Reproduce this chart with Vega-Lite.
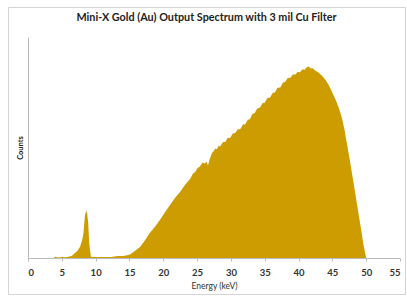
{
  "$schema": "https://vega.github.io/schema/vega-lite/v6.json",
  "width": 397,
  "height": 287,
  "autosize": "none",
  "padding": {"left": 8, "top": 7, "right": 2, "bottom": 3},
  "title": {"text": "Mini-X Gold (Au) Output Spectrum with 3 mil Cu Filter", "font": "Lato", "fontSize": 10.8, "fontWeight": "bold", "color": "#222222", "anchor": "middle", "offset": -16},
  "config": {"view": {"stroke": "#d4d4d4", "strokeWidth": 1}, "background": "white"},
  "data": {"values": [
    {"E": 3.8, "c": 0}, {"E": 4.0, "c": 0.6}, {"E": 4.3, "c": 0.3}, {"E": 4.6, "c": 0.2}, {"E": 5.0, "c": 0.5},
    {"E": 5.5, "c": 0.3}, {"E": 6.0, "c": 0.6}, {"E": 6.5, "c": 1.0}, {"E": 6.9, "c": 2.1}, {"E": 7.3, "c": 3.2},
    {"E": 7.7, "c": 5.1}, {"E": 8.0, "c": 8}, {"E": 8.2, "c": 11.3}, {"E": 8.4, "c": 18.7}, {"E": 8.6, "c": 21.5},
    {"E": 8.75, "c": 20}, {"E": 8.9, "c": 15.8}, {"E": 9.05, "c": 6.8}, {"E": 9.3, "c": 0.6}, {"E": 9.7, "c": 0.5},
    {"E": 10.5, "c": 0.4}, {"E": 11.5, "c": 0.4}, {"E": 12.3, "c": 0.5}, {"E": 13.0, "c": 0.8}, {"E": 13.3, "c": 0.9},
    {"E": 14.0, "c": 0.9}, {"E": 14.5, "c": 1.1}, {"E": 15.1, "c": 1.6}, {"E": 15.8, "c": 3.2}, {"E": 16.6, "c": 5.1},
    {"E": 17.3, "c": 8}, {"E": 18.0, "c": 11.3}, {"E": 18.8, "c": 14.3}, {"E": 19.5, "c": 17.2}, {"E": 20.2, "c": 20.5},
    {"E": 21.0, "c": 24}, {"E": 21.7, "c": 27}, {"E": 22.5, "c": 30}, {"E": 23.2, "c": 33}, {"E": 24.0, "c": 36},
    {"E": 24.4, "c": 38.2}, {"E": 24.7, "c": 38.8}, {"E": 25.1, "c": 40.8}, {"E": 25.4, "c": 41.3}, {"E": 25.8, "c": 43.2},
    {"E": 26.1, "c": 42.8}, {"E": 26.4, "c": 43.6}, {"E": 26.6, "c": 41.8}, {"E": 26.9, "c": 45}, {"E": 27.2, "c": 47.5},
    {"E": 27.4, "c": 48.2}, {"E": 27.7, "c": 49.6}, {"E": 27.9, "c": 49.2}, {"E": 28.2, "c": 50.8}, {"E": 28.4, "c": 50.4},
    {"E": 28.8, "c": 52.4}, {"E": 29.2, "c": 52.6}, {"E": 29.5, "c": 54.3}, {"E": 29.9, "c": 54.4}, {"E": 30.3, "c": 56.5},
    {"E": 30.6, "c": 56.4}, {"E": 31.0, "c": 58.2}, {"E": 31.4, "c": 58.4}, {"E": 31.8, "c": 60.5}, {"E": 32.1, "c": 60.4},
    {"E": 32.5, "c": 62.6}, {"E": 32.8, "c": 62.8}, {"E": 33.2, "c": 65.3}, {"E": 33.5, "c": 65.5}, {"E": 33.9, "c": 67.6},
    {"E": 34.3, "c": 68.1}, {"E": 34.7, "c": 70.1}, {"E": 35.0, "c": 70.3}, {"E": 35.4, "c": 72.4}, {"E": 35.8, "c": 72.6},
    {"E": 36.2, "c": 74.8}, {"E": 36.5, "c": 74.9}, {"E": 36.9, "c": 77}, {"E": 37.3, "c": 77.1}, {"E": 37.7, "c": 79.4},
    {"E": 38.0, "c": 79.6}, {"E": 38.4, "c": 81.5}, {"E": 38.8, "c": 81.6}, {"E": 39.2, "c": 83.1}, {"E": 39.5, "c": 82.9},
    {"E": 39.9, "c": 84.3}, {"E": 40.2, "c": 84.1}, {"E": 40.6, "c": 85.4}, {"E": 40.9, "c": 85.2}, {"E": 41.2, "c": 86.3},
    {"E": 41.5, "c": 86.6}, {"E": 41.8, "c": 85.8}, {"E": 42.1, "c": 85.9}, {"E": 42.5, "c": 84.7}, {"E": 42.9, "c": 84.0},
    {"E": 43.5, "c": 82.3}, {"E": 44.0, "c": 80.5}, {"E": 44.5, "c": 78}, {"E": 45.0, "c": 74.8}, {"E": 45.5, "c": 71.5},
    {"E": 46.0, "c": 67.5}, {"E": 46.4, "c": 63.5}, {"E": 46.8, "c": 58}, {"E": 47.1, "c": 52.6}, {"E": 47.6, "c": 44},
    {"E": 48.1, "c": 34.5}, {"E": 48.5, "c": 27}, {"E": 48.9, "c": 19.5}, {"E": 49.3, "c": 12}, {"E": 49.6, "c": 5.9},
    {"E": 50.0, "c": 0}
  ]},
  "mark": {"type": "area", "color": "#cc9c00", "interpolate": "linear"},
  "encoding": {
    "x": {
      "field": "E", "type": "quantitative",
      "scale": {"domain": [0, 55], "range": [20, 392], "nice": false, "zero": false},
      "axis": {
        "values": [0, 5, 10, 15, 20, 25, 30, 35, 40, 45, 50, 55],
        "offset": -36, "grid": false,
        "domainColor": "#bbbbbb", "tickColor": "#bbbbbb", "tickSize": 3,
        "labelFont": "Lato", "labelFontSize": 9.5, "labelFontWeight": "bold", "labelColor": "#333333", "labelPadding": 6,
        "title": "Energy (keV)", "titleFont": "Lato", "titleFontSize": 8.5, "titleFontWeight": "normal", "titleColor": "#333333", "titlePadding": 5
      }
    },
    "y": {
      "field": "c", "type": "quantitative",
      "scale": {"domain": [0, 100], "range": [251, 30], "nice": false},
      "axis": {
        "offset": -20, "grid": false, "labels": false, "ticks": false,
        "domainColor": "#bbbbbb",
        "title": "Counts", "titleFont": "Lato", "titleFontSize": 7.5, "titleFontWeight": "bold", "titleColor": "#222222", "titlePadding": 4
      }
    }
  }
}
